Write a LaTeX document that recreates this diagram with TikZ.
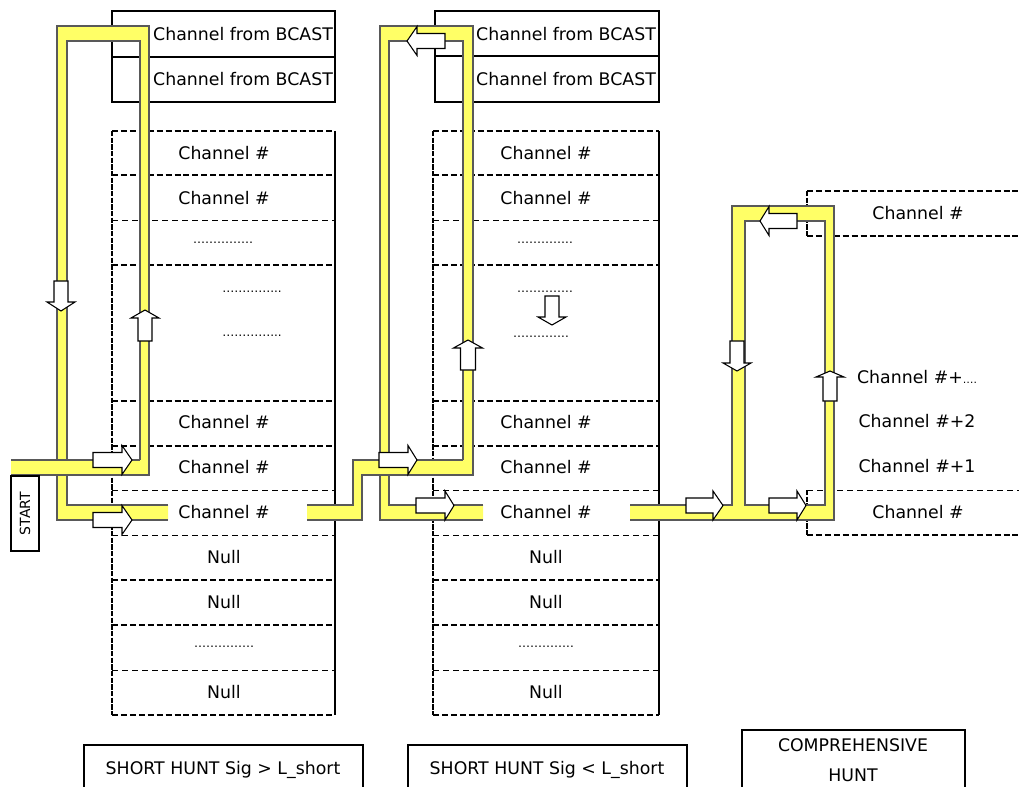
\documentclass[tikz,border=0pt]{standalone}
\usepackage{fontspec}
\setmainfont{DejaVu Sans}
\definecolor{hl}{RGB}{255,255,102}
\tikzset{
 yline/.style={draw=black!65,line width=0.9pt},
 barrow/.style={fill=white,draw=black,line width=0.8pt,line join=miter},
 solidbox/.style={draw=black,line width=0.8pt},
 thickdash/.style={draw=black,line width=1.3pt,dash pattern=on 4.5pt off 2.2pt},
 thindash/.style={draw=black,line width=0.7pt,dash pattern=on 4.5pt off 3pt},
 vdash/.style={draw=black,line width=0.8pt,dash pattern=on 4pt off 1pt},
 lbl/.style={font=\fontsize{13}{15}\selectfont,inner sep=0pt},
 dotlbl/.style={font=\fontsize{9}{11}\selectfont,inner sep=0pt},
}
% horizontal block arrow: base x, head-base x, tip x, centre y, body half, head half
\newcommand\harr[6]{\draw[barrow] (#1,#4-#5) -- (#2,#4-#5) -- (#2,#4-#6) -- (#3,#4) -- (#2,#4+#6) -- (#2,#4+#5) -- (#1,#4+#5) -- cycle;}
% vertical block arrow: base y, head-base y, tip y, centre x, body half, head half
\newcommand\varr[6]{\draw[barrow] (#4-#5,#1) -- (#4-#5,#2) -- (#4-#6,#2) -- (#4,#3) -- (#4+#6,#2) -- (#4+#5,#2) -- (#4+#5,#1) -- cycle;}
\newcommand\chancol[2]{%
 \foreach \yy in {131,175,265,401,446,580,625,715} \draw[thickdash] (#1,\yy) -- (#2,\yy);
 \foreach \yy in {220,490,535,670} \draw[thindash] (#1,\yy) -- (#2,\yy);
 \draw[vdash] (#1,131) -- (#1,715);
 \draw[solidbox] (#2,131) -- (#2,715);
}
\begin{document}
\begin{tikzpicture}[x=0.75pt,y=-0.75pt]
\fill[white] (0,0) rectangle (1019,787);
\useasboundingbox (0,0) rectangle (1019,787);

% ---------- boxes ----------
\draw[solidbox] (112,11) rectangle (335,102);
\draw[solidbox] (112,57) -- (335,57);
\draw[solidbox] (435,11) rectangle (659,102);
\draw[solidbox] (435,56) -- (659,56);
\chancol{112}{335}
\chancol{433}{659}
% right section channel boxes
\draw[thickdash] (807,191) -- (1019,191);
\draw[thickdash] (807,236) -- (1019,236);
\draw[vdash] (807,191) -- (807,236);
\draw[thindash] (807,490) -- (1019,490);
\draw[thickdash] (807,535) -- (1019,535);
\draw[vdash] (807,490) -- (807,535);

% ---------- texts ----------
\node[lbl] (b1) at (243,34) {Channel from BCAST};
\node[lbl] (b2) at (243,79) {Channel from BCAST};
\node[lbl] (b3) at (566,34) {Channel from BCAST};
\node[lbl] (b4) at (566,79) {Channel from BCAST};

\node[lbl] (l1) at (224,153) {Channel \#};
\node[lbl] (l2) at (224,198) {Channel \#};
\node[dotlbl] (l3) at (223,243) {……………};
\node[dotlbl] (l4) at (252,292) {…………...};
\node[dotlbl] (l5) at (252,336) {…………...};
\node[lbl] (l6) at (224,422) {Channel \#};
\node[lbl] (l7) at (224,467) {Channel \#};
\node[lbl] (l8) at (224,512) {Channel \#};
\node[lbl] (l9) at (224,557) {Null};
\node[lbl] (l10) at (224,602) {Null};
\node[dotlbl] (l11) at (224,647) {……………};
\node[lbl] (l12) at (224,692) {Null};

\node[lbl] (m1) at (546,153) {Channel \#};
\node[lbl] (m2) at (546,198) {Channel \#};
\node[dotlbl] (m3) at (545,243) {…………..};
\node[dotlbl] (m4) at (545,292) {…………..};
\node[dotlbl] (m5) at (541,337) {…………..};
\node[lbl] (m6) at (546,422) {Channel \#};
\node[lbl] (m7) at (546,467) {Channel \#};
\node[lbl] (m8) at (546,512) {Channel \#};
\node[lbl] (m9) at (546,557) {Null};
\node[lbl] (m10) at (546,602) {Null};
\node[dotlbl] (m11) at (546,647) {…………..};
\node[lbl] (m12) at (546,692) {Null};

\node[lbl] (r1) at (918,213) {Channel \#};
\node[lbl] (r2) at (917,377) {Channel \#+{\fontsize{8}{10}\selectfont ….}};
\node[lbl] (r3) at (917,421) {Channel \#+2};
\node[lbl] (r4) at (917,466) {Channel \#+1};
\node[lbl] (r5) at (918,512) {Channel \#};

% ---------- yellow paths ----------
% left loop
\fill[hl] (57,520) -- (57,26) -- (149,26) -- (149,475) -- (140,475) -- (140,41) -- (67,41) -- (67,505) -- (168,505) -- (168,520) -- cycle;
\draw[yline] (168,505) -- (67,505) -- (67,41) -- (140,41) -- (140,475) -- (149,475) -- (149,26) -- (57,26) -- (57,520) -- (168,520);
% start band
\fill[hl] (11,460) rectangle (149,475);
\draw[yline] (11,460) -- (140,460);
\draw[yline] (11,475) -- (149,475) -- (149,460);

% middle loop
\fill[hl] (380,520) -- (380,26) -- (473,26) -- (473,475) -- (463,475) -- (463,41) -- (389,41) -- (389,505) -- (483,505) -- (483,520) -- cycle;
\draw[yline] (483,505) -- (389,505) -- (389,41) -- (463,41) -- (463,475) -- (473,475) -- (473,26) -- (380,26) -- (380,520) -- (483,520);
% step band
\fill[hl] (307,505) -- (353,505) -- (353,460) -- (473,460) -- (473,475) -- (362,475) -- (362,520) -- (307,520) -- cycle;
\draw[yline] (307,505) -- (353,505) -- (353,460) -- (463,460);
\draw[yline] (307,520) -- (362,520) -- (362,475) -- (473,475) -- (473,460);

% right loop
\fill[hl,even odd rule] (630,505) -- (732,505) -- (732,206) -- (834,206) -- (834,520) -- (630,520) -- cycle (745,221) -- (825,221) -- (825,505) -- (745,505) -- cycle;
\draw[yline] (630,505) -- (732,505) -- (732,206) -- (834,206) -- (834,520) -- (630,520);
\draw[yline] (745,221) rectangle (825,505);

% ---------- block arrows ----------
\harr{93}{122}{132}{460}{7.5}{14.5}
\harr{93}{122}{132}{520}{7.5}{14.5}
\varr{281}{302}{311}{61}{7}{14}
\varr{341}{318}{310}{145}{7}{14}

\harr{445}{417}{407}{41}{7.5}{14.5}
\harr{379}{408}{417}{460}{7.5}{14.5}
\harr{416}{445}{454}{505.5}{7.5}{14.5}
\varr{370}{348}{340}{468}{7.5}{14.5}
\varr{296}{317}{325}{552}{7}{14}

\harr{797}{769}{760}{221}{7.5}{14.5}
\varr{341}{363}{371}{737}{7}{14}
\varr{401}{377}{371}{830}{7}{14}
\harr{686}{713}{723}{505.5}{7.5}{14.5}
\harr{769}{797}{806}{505.5}{7.5}{14.5}

% ---------- START and captions ----------
\draw[solidbox] (11,476) rectangle (39,551);
\node[font=\fontsize{10.5}{12}\selectfont,rotate=90,inner sep=0pt] (start) at (25,513.5) {START};

\draw[solidbox] (84,787) -- (84,745) -- (363,745) -- (363,787);
\node[lbl] (c1) at (223,770) {SHORT HUNT Sig > L\_short};
\draw[solidbox] (408,787) -- (408,745) -- (687,745) -- (687,787);
\node[lbl] (c2) at (547,770) {SHORT HUNT Sig < L\_short};
\draw[solidbox] (742,787) -- (742,730) -- (965,730) -- (965,787);
\node[lbl] (c3) at (853,745) {COMPREHENSIVE};
\node[lbl] (c4) at (853,775) {HUNT};
\end{tikzpicture}
\end{document}
